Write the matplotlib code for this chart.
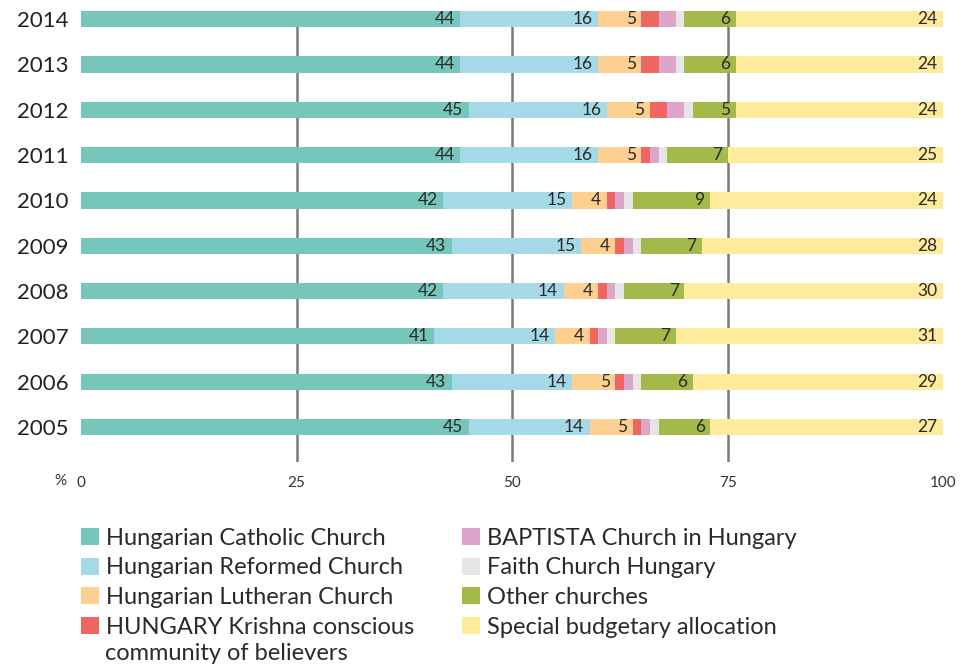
import matplotlib
matplotlib.use("Agg")
import matplotlib.pyplot as plt
from matplotlib.patches import Patch
import numpy as np

plt.rcParams['font.family'] = ['Lato', 'DejaVu Sans']

years = ['2005', '2006', '2007', '2008', '2009', '2010', '2011', '2012', '2013', '2014']
catholic = [45, 43, 41, 42, 43, 42, 44, 45, 44, 44]
reformed = [14, 14, 14, 14, 15, 15, 16, 16, 16, 16]
lutheran = [5, 5, 4, 4, 4, 4, 5, 5, 5, 5]
krishna = [1, 1, 1, 1, 1, 1, 1, 2, 2, 2]
baptist = [1, 1, 1, 1, 1, 1, 1, 2, 2, 2]
faith = [1, 1, 1, 1, 1, 1, 1, 1, 1, 1]
other = [6, 6, 7, 7, 7, 9, 7, 5, 6, 6]
special = [27, 29, 31, 30, 28, 27, 25, 24, 24, 24]
# printed labels for the special allocation (2010 is printed as 24 in the source)
special_text = ['27', '29', '31', '30', '28', '24', '25', '24', '24', '24']

series_names = ['Hungarian Catholic Church', 'Hungarian Reformed Church',
                'Hungarian Lutheran Church',
                'HUNGARY Krishna conscious',
                'BAPTISTA Church in Hungary', 'Faith Church Hungary',
                'Other churches', 'Special budgetary allocation']
krishna_second_line = 'community of believers'
colors = ['#76c6bb', '#a5d9e7', '#fdd091', '#ee6563', '#dca5ca', '#e6e6e6',
          '#a3ba4a', '#feeb9b']
labelled = [True, True, True, False, False, False, True, True]
xticks = [0, 25, 50, 75, 100]

series = [catholic, reformed, lutheran, krishna, baptist, faith, other, special]

fig = plt.figure(figsize=(9.65, 6.66), dpi=100)
ax = fig.add_axes([81/965, 1-462/666, (943-81)/965, (462-11)/666])

y = np.arange(len(years))
left = np.zeros(len(years))
bh = 0.355
for vals, col, lab in zip(series, colors, labelled):
    v = np.array(vals, dtype=float)
    ax.barh(y, v, left=left, height=bh, color=col, zorder=3, linewidth=0)
    if lab:
        txt = special_text if vals is special else [str(int(a)) for a in v]
        for yi, xe, t in zip(y, left + v, txt):
            ax.annotate(t, xy=(xe, yi), xytext=(-4, 0), textcoords='offset points',
                        ha='right', va='center', fontsize=12.5, color='#2a2a2a',
                        zorder=4)
    left += v

for gx in xticks[1:-1]:
    ax.axvline(gx, color='#7a7a7a', linewidth=1.8, zorder=1)

ax.set_xlim(0, 100)
ax.set_ylim(-0.77, 9.18)
ax.set_yticks(y)
ax.set_yticklabels(years, fontsize=16, color='#222222')
ax.set_xticks(xticks)
ax.set_xticklabels([str(v) for v in xticks], fontsize=11, color='#333333')
ax.tick_params(axis='both', length=0)
ax.tick_params(axis='y', pad=9)
ax.tick_params(axis='x', pad=10)
for s in ax.spines.values():
    s.set_visible(False)

fig.text(60/965, 1-481/666, '%', fontsize=11, color='#333333', ha='center', va='center')

handles = [Patch(facecolor=c, edgecolor='none') for c in colors]
leg = fig.legend(handles, series_names, loc='upper left', bbox_to_anchor=(81/965, 1-528/666),
                 ncol=2, frameon=False, handlelength=0.75, handleheight=0.75,
                 handletextpad=0.3, labelspacing=0.36, columnspacing=2.05, borderpad=0,
                 borderaxespad=0, prop={'size': 17})
for t in leg.get_texts():
    t.set_color('#2a2a2a')

fig.text(105/965, 1-654/666, krishna_second_line, fontsize=17, color='#2a2a2a',
         ha='left', va='center')

fig.savefig('out.png', dpi=100)
